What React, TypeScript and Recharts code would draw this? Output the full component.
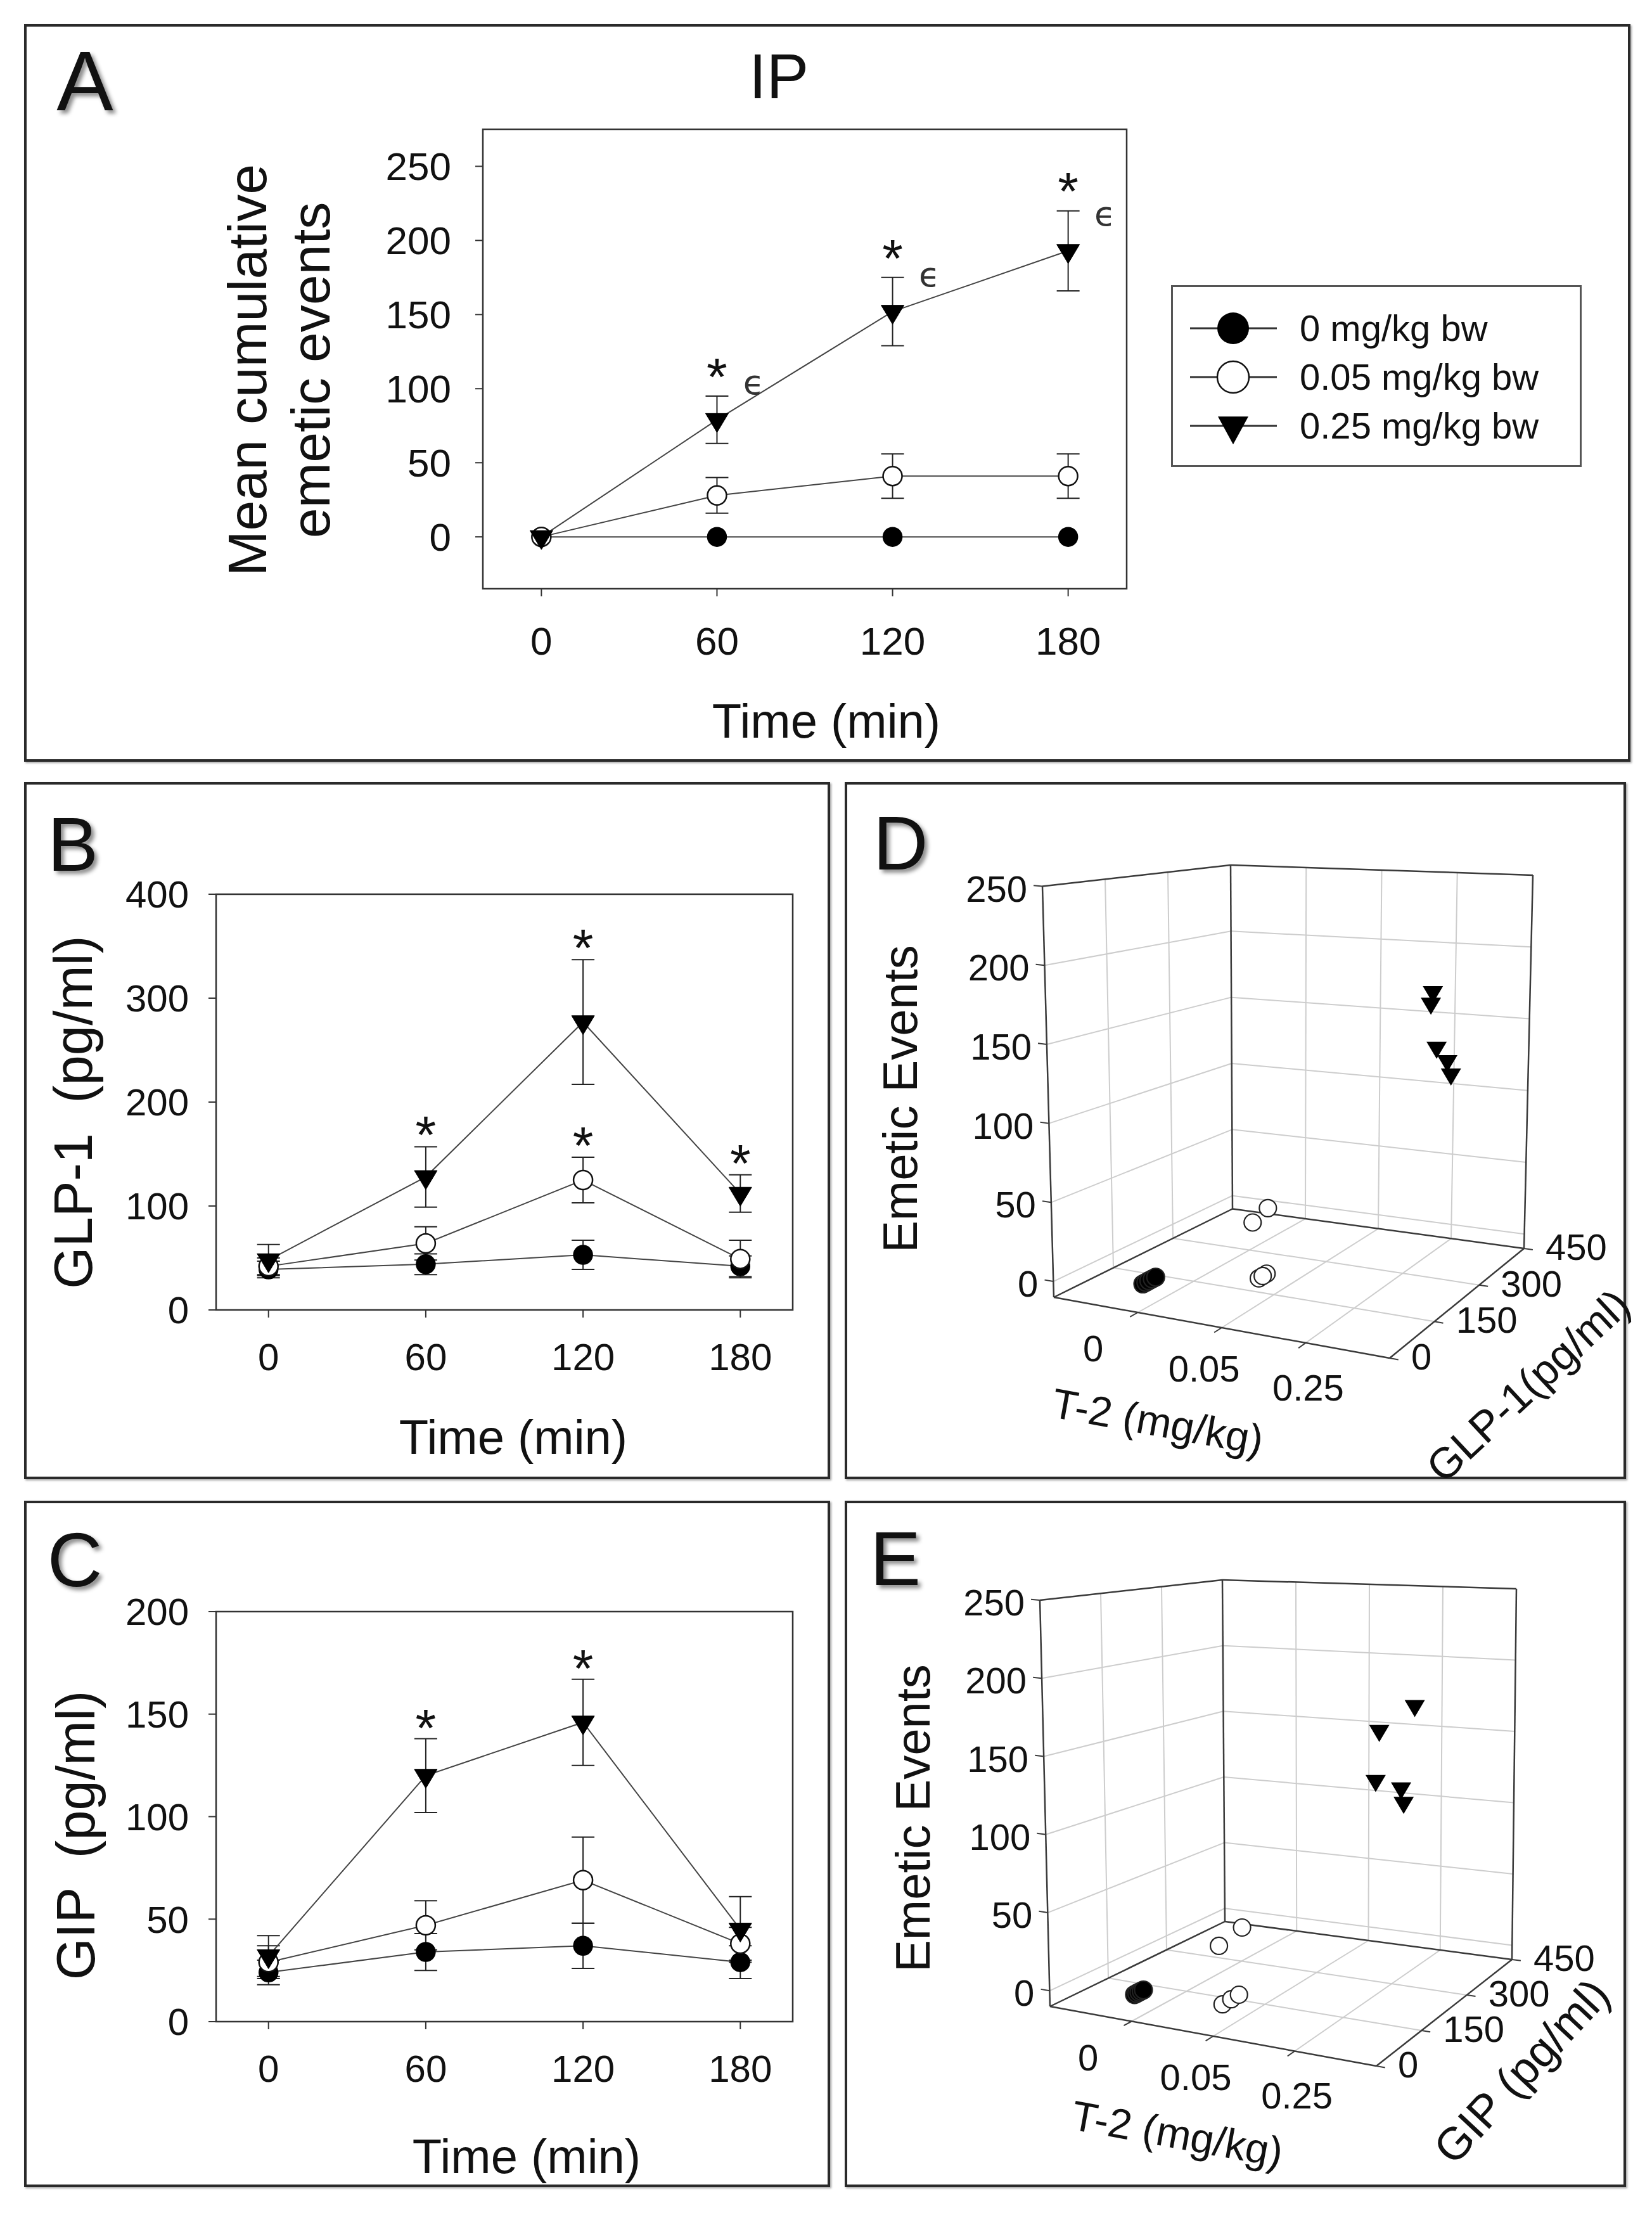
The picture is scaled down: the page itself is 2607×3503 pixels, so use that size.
import React from "react";
import {
  LineChart,
  Line,
  XAxis,
  YAxis,
  ErrorBar,
  ReferenceArea,
  ReferenceDot,
  ScatterChart,
  Scatter,
  ReferenceLine,
} from "recharts";

const FONT = '"Liberation Sans", Arial, Helvetica, sans-serif';
const INK = "#111";

// time course (min)
const times = [0, 60, 120, 180];
const groupNames = ["0 mg/kg bw", "0.05 mg/kg bw", "0.25 mg/kg bw"];

// A: mean cumulative emetic events +/- SEM
const emesis0 = [0, 0, 0, 0];
const emesis0Sem = [0, 0, 0, 0];
const emesis005 = [0, 28, 41, 41];
const emesis005Sem = [0, 12, 15, 15];
const emesis025 = [0, 79, 152, 193];
const emesis025Sem = [0, 16, 23, 27];

// B: GLP-1 (pg/ml)
const glp0 = [39, 44, 53, 42];
const glp0Sem = [8, 10, 14, 10];
const glp005 = [42, 64, 125, 49];
const glp005Sem = [8, 16, 22, 18];
const glp025 = [48, 128, 277, 112];
const glp025Sem = [15, 29, 60, 18];

// C: GIP (pg/ml)
const gip0 = [24, 34, 37, 29];
const gip0Sem = [6, 9, 11, 8];
const gip005 = [29, 47, 69, 38];
const gip005Sem = [8, 12, 21, 8];
const gip025 = [32, 120, 146, 45];
const gip025Sem = [10, 18, 21, 16];

// significance marks (time points)
const starsA025 = [60, 120, 180];
const epsA025 = [60, 120, 180];
const starsB025 = [60, 120, 180];
const starsB005 = [120];
const starsC025 = [60, 120];

// D / E: individual animals
const doseLabels = ["0", "0.05", "0.25"];
const emeticInd0 = [0, 0, 0, 0, 0];
const emeticInd005 = [38, 42, 0, 0, 0];
const emeticInd025 = [188, 181, 151, 139, 129];
const glpInd0 = [50, 58, 66, 75, 84];
const glpInd005 = [128, 171, 144, 166, 155];
const glpInd025 = [221, 215, 234, 268, 280];
const gipInd0 = [44, 50, 56, 62, 68];
const gipInd005 = [57, 123, 65, 90, 112];
const gipInd025 = [209, 98, 86, 166, 174];

const emeticTicks = [0, 50, 100, 150, 200, 250];
const hormoneTicks = [0, 150, 300, 450];

const makeRows = (m: number[][], s: number[][]) =>
  times.map((t, i) => ({
    t,
    g0: m[0][i],
    s0: s[0][i],
    g1: m[1][i],
    s1: s[1][i],
    g2: m[2][i],
    s2: s[2][i],
  }));

const rowsA = makeRows([emesis0, emesis005, emesis025], [emesis0Sem, emesis005Sem, emesis025Sem]);
const rowsB = makeRows([glp0, glp005, glp025], [glp0Sem, glp005Sem, glp025Sem]);
const rowsC = makeRows([gip0, gip005, gip025], [gip0Sem, gip005Sem, gip025Sem]);

// ---------- markers ----------
const triPath = (cx: number, cy: number, w: number, h: number) =>
  `M${cx - w / 2},${cy - h / 3} L${cx + w / 2},${cy - h / 3} L${cx},${cy + (2 * h) / 3} Z`;

const filledDot = (r: number) => (p: any) =>
  <circle key={`f${p.index}`} cx={p.cx} cy={p.cy} r={r} fill="#000" stroke="#000" strokeWidth={1.5} />;
const openDot = (r: number) => (p: any) =>
  <circle key={`o${p.index}`} cx={p.cx} cy={p.cy} r={r} fill="#fff" stroke="#111" strokeWidth={2.5} />;
const triDot = (w: number, h: number) => (p: any) =>
  <path key={`t${p.index}`} d={triPath(p.cx, p.cy, w, h)} fill="#000" stroke="#000" strokeWidth={1} />;

const shapeCircle = (r: number, fill: string) => (p: any) =>
  <circle cx={p.cx} cy={p.cy} r={r} fill={fill} stroke="#222" strokeWidth={2.2} />;
const shapeTri = (w: number, h: number) => (p: any) =>
  <path d={triPath(p.cx, p.cy, w, h)} fill="#000" />;

// ---------- html text helper ----------
type TxtProps = {
  x: number;
  y: number;
  size: number;
  anchor?: "start" | "middle" | "end";
  rotate?: number;
  shadow?: boolean;
  children: React.ReactNode;
  color?: string;
};
const Txt = ({ x, y, size, anchor = "middle", rotate = 0, shadow, children, color }: TxtProps) => {
  const tx = anchor === "end" ? "-100%" : anchor === "start" ? "0%" : "-50%";
  return (
    <div
      style={{
        position: "absolute",
        left: x,
        top: y,
        fontSize: size,
        lineHeight: 1,
        whiteSpace: "pre",
        color: color || INK,
        fontFamily: FONT,
        transform: `translate(${tx}, -50%) rotate(${rotate}deg)`,
        textShadow: shadow ? "5px 5px 6px rgba(0,0,0,0.45)" : undefined,
        pointerEvents: "none",
      }}
    >
      {children}
    </div>
  );
};

const Frame = ({ w, h }: { w: number; h: number }) => (
  <div
    style={{
      position: "absolute",
      left: 0,
      top: 0,
      width: w,
      height: h,
      boxSizing: "border-box",
      border: "4px solid #2a2a2a",
      boxShadow: "2px 2px 3px rgba(0,0,0,0.35)",
    }}
  />
);

// ---------- time course panels ----------
type StarSpec = { key: "g1" | "g2"; sem: "s1" | "s2"; at: number[] };

type TCProps = {
  width: number;
  height: number;
  margin: { top: number; right: number; bottom: number; left: number };
  yAxisWidth: number;
  rows: any[];
  yDomain: [number, number];
  yTicks: number[];
  tickFont: number;
  yTickMargin: number;
  xTickMargin: number;
  stars: StarSpec[];
  starGap: number;
  eps?: number[];
};

const starLabel = (gap: number, fs: number) => (p: any) => {
  const vb = p.viewBox || {};
  const cx = (vb.x || 0) + (vb.width || 0) / 2;
  const cy = (vb.y || 0) + (vb.height || 0) / 2;
  return (
    <text x={cx} y={cy - gap + fs * 0.58} textAnchor="middle" fontSize={fs} fontFamily={FONT} fill={INK}>
      *
    </text>
  );
};

const epsLabel = (p: any) => {
  const vb = p.viewBox || {};
  const cx = (vb.x || 0) + (vb.width || 0) / 2;
  const cy = (vb.y || 0) + (vb.height || 0) / 2;
  return (
    <text x={cx + 58} y={cy - 40} textAnchor="middle" fontSize={54} fontFamily="DejaVu Sans, sans-serif" fill="#333">
      ϵ
    </text>
  );
};

const TimeCourse = (p: TCProps) => {
  const tickStyle = { fontSize: p.tickFont, fill: INK, fontFamily: FONT };
  const tickLine = { stroke: "#333", strokeWidth: 2 };
  const lineStroke = "#444";
  const eb = (k: string) => (
    <ErrorBar dataKey={k} width={18} stroke="#222" strokeWidth={2} direction="y" />
  );
  return (
    <LineChart
      width={p.width}
      height={p.height}
      data={p.rows}
      margin={p.margin}
      style={{ position: "absolute", left: 0, top: 0 }}
    >
      <XAxis
        type="number"
        dataKey="t"
        domain={[-20, 200]}
        ticks={times}
        interval={0}
        allowDataOverflow
        height={100}
        tickSize={12}
        tickMargin={p.xTickMargin}
        axisLine={false}
        tickLine={tickLine}
        tick={tickStyle}
      />
      <YAxis
        type="number"
        domain={p.yDomain}
        ticks={p.yTicks}
        interval={0}
        allowDataOverflow
        width={p.yAxisWidth}
        tickSize={12}
        tickMargin={p.yTickMargin}
        axisLine={false}
        tickLine={tickLine}
        tick={tickStyle}
      />
      <ReferenceArea
        x1={-20}
        x2={200}
        y1={p.yDomain[0]}
        y2={p.yDomain[1]}
        fill="none"
        fillOpacity={0}
        stroke="#333"
        strokeWidth={2.5}
        ifOverflow="visible"
      />
      <Line
        dataKey="g0"
        type="linear"
        stroke={lineStroke}
        strokeWidth={2}
        dot={filledDot(15)}
        activeDot={false}
        isAnimationActive={false}
      >
        {eb("s0")}
      </Line>
      <Line
        dataKey="g1"
        type="linear"
        stroke={lineStroke}
        strokeWidth={2}
        dot={openDot(15)}
        activeDot={false}
        isAnimationActive={false}
      >
        {eb("s1")}
      </Line>
      <Line
        dataKey="g2"
        type="linear"
        stroke={lineStroke}
        strokeWidth={2}
        dot={triDot(36, 30)}
        activeDot={false}
        isAnimationActive={false}
      >
        {eb("s2")}
      </Line>
      {p.stars.flatMap((s) =>
        s.at.map((t) => {
          const row = p.rows[times.indexOf(t)];
          return (
            <ReferenceDot
              key={`st-${s.key}-${t}`}
              x={t}
              y={row[s.key] + row[s.sem]}
              r={0}
              fill="none"
              stroke="none"
              ifOverflow="visible"
              label={starLabel(p.starGap, 84)}
            />
          );
        })
      )}
      {(p.eps || []).map((t) => {
        const row = p.rows[times.indexOf(t)];
        return (
          <ReferenceDot
            key={`eps-${t}`}
            x={t}
            y={row.g2}
            r={0}
            fill="none"
            stroke="none"
            ifOverflow="visible"
            label={epsLabel}
          />
        );
      })}
    </LineChart>
  );
};

// ---------- legend of A ----------
const LegendA = ({ left, top }: { left: number; top: number }) => {
  const rowY = [68, 145, 222];
  return (
    <div
      style={{
        position: "absolute",
        left,
        top,
        width: 648,
        height: 287,
        boxSizing: "border-box",
        border: "3px solid #555",
        background: "#fff",
      }}
    >
      <svg width={200} height={287} style={{ position: "absolute", left: -3, top: -3 }}>
        {rowY.map((y, i) => (
          <g key={i}>
            <line x1={30} x2={167} y1={y} y2={y} stroke="#333" strokeWidth={3} />
            {i === 0 && <circle cx={98} cy={y} r={25} fill="#000" />}
            {i === 1 && <circle cx={98} cy={y} r={25} fill="#fff" stroke="#111" strokeWidth={2.5} />}
            {i === 2 && <path d={triPath(98, y, 48, 44)} fill="#000" />}
          </g>
        ))}
      </svg>
      {groupNames.map((n, i) => (
        <Txt key={n} x={200} y={rowY[i] - 3} size={58} anchor="start">
          {n}
        </Txt>
      ))}
    </div>
  );
};

// ---------- 3D scatter panels ----------
type P2 = { x: number; y: number };
type Box3 = { Lb: P2; Fb: P2; Rb: P2; Bb: P2; Lt: P2; Ft: P2; Rt: P2; Bt: P2 };

const EM_MIN = -10;
const EM_MAX = 250;
const HORMONE_MAX = 450;
const doseU = [0.21, 0.46, 0.92];
const doseLabelU = [0.14, 0.47, 0.78];
const doseGridU = [0.25, 0.5, 0.75];

const bil = (a: P2, b: P2, c: P2, d: P2, u: number, v: number): P2 => ({
  x: (1 - u) * (1 - v) * a.x + u * (1 - v) * b.x + u * v * c.x + (1 - u) * v * d.x,
  y: (1 - u) * (1 - v) * a.y + u * (1 - v) * b.y + u * v * c.y + (1 - u) * v * d.y,
});
const project = (b: Box3, u: number, v: number, w: number): P2 => {
  const f = bil(b.Lb, b.Fb, b.Rb, b.Bb, u, v);
  const t = bil(b.Lt, b.Ft, b.Rt, b.Bt, u, v);
  return { x: f.x + (t.x - f.x) * w, y: f.y + (t.y - f.y) * w };
};
const wn = (e: number) => (e - EM_MIN) / (EM_MAX - EM_MIN);
const vn = (h: number) => h / HORMONE_MAX;

type Seg = { a: P2; b: P2; kind: "grid" | "edge" | "tick" };

const buildSegments = (b: Box3): Seg[] => {
  const s: Seg[] = [];
  const P = (u: number, v: number, w: number) => project(b, u, v, w);
  const wGrid = emeticTicks.filter((e) => e < EM_MAX).map(wn);
  const vGrid = hormoneTicks.filter((h) => h > 0 && h < HORMONE_MAX).map(vn);
  // left wall
  vGrid.forEach((v) => s.push({ a: P(0, v, 0), b: P(0, v, 1), kind: "grid" }));
  wGrid.forEach((w) => s.push({ a: P(0, 0, w), b: P(0, 1, w), kind: "grid" }));
  // right wall
  doseGridU.forEach((u) => s.push({ a: P(u, 1, 0), b: P(u, 1, 1), kind: "grid" }));
  wGrid.forEach((w) => s.push({ a: P(0, 1, w), b: P(1, 1, w), kind: "grid" }));
  // floor
  doseGridU.forEach((u) => s.push({ a: P(u, 0, 0), b: P(u, 1, 0), kind: "grid" }));
  vGrid.forEach((v) => s.push({ a: P(0, v, 0), b: P(1, v, 0), kind: "grid" }));
  // edges
  const E = (a: P2, c: P2) => s.push({ a, b: c, kind: "edge" });
  E(P(0, 0, 0), P(0, 0, 1));
  E(P(0, 0, 1), P(0, 1, 1));
  E(P(0, 1, 0), P(0, 1, 1));
  E(P(0, 1, 1), P(1, 1, 1));
  E(P(1, 1, 0), P(1, 1, 1));
  E(P(0, 0, 0), P(1, 0, 0));
  E(P(1, 0, 0), P(1, 1, 0));
  E(P(0, 0, 0), P(0, 1, 0));
  E(P(0, 1, 0), P(1, 1, 0));
  // ticks
  const unit = (a: P2, c: P2) => {
    const dx = c.x - a.x;
    const dy = c.y - a.y;
    const l = Math.hypot(dx, dy) || 1;
    return { x: dx / l, y: dy / l };
  };
  const T = 14;
  emeticTicks.map(wn).forEach((w) => {
    const p0 = P(0, 0, w);
    const d = unit(P(1, 0, w), p0);
    s.push({ a: p0, b: { x: p0.x + d.x * T, y: p0.y + d.y * T }, kind: "tick" });
  });
  hormoneTicks.map(vn).forEach((v) => {
    const p0 = P(1, v, 0);
    const d = unit(P(0, v, 0), p0);
    s.push({ a: p0, b: { x: p0.x + d.x * T, y: p0.y + d.y * T }, kind: "tick" });
  });
  doseGridU.forEach((u) => {
    const p0 = P(u, 0, 0);
    const d = unit(P(u, 1, 0), p0);
    s.push({ a: p0, b: { x: p0.x + d.x * T, y: p0.y + d.y * T }, kind: "tick" });
  });
  return s;
};

type P3Props = {
  width: number;
  height: number;
  box: Box3;
  hormone: number[][];
  letter: string;
  letterPos: P2;
  emeticTitlePos: P2;
  doseTitlePos: P2;
  hormoneTitle: string;
  hormoneTitlePos: P2;
  hormoneTitleRot: number;
  hormoneTitleSize: number;
};

const Panel3D = (p: P3Props) => {
  const emetic = [emeticInd0, emeticInd005, emeticInd025];
  const pts = [0, 1, 2].map((g) =>
    p.hormone[g].map((h, i) => project(p.box, doseU[g], vn(h), wn(emetic[g][i])))
  );
  const segs = buildSegments(p.box);
  const style = {
    grid: { stroke: "#cdcdcd", w: 2 },
    edge: { stroke: "#3a3a3a", w: 2.5 },
    tick: { stroke: "#3a3a3a", w: 2 },
  };
  return (
    <>
      <ScatterChart
        width={p.width}
        height={p.height}
        margin={{ top: 0, right: 0, bottom: 0, left: 0 }}
        style={{ position: "absolute", left: 0, top: 0 }}
      >
        <XAxis type="number" dataKey="x" domain={[0, p.width]} hide allowDataOverflow />
        <YAxis type="number" dataKey="y" domain={[0, p.height]} reversed hide allowDataOverflow />
        {segs.map((s, i) => (
          <ReferenceLine
            key={i}
            segment={[s.a, s.b]}
            stroke={style[s.kind].stroke}
            strokeWidth={style[s.kind].w}
            ifOverflow="visible"
          />
        ))}
        <Scatter data={pts[0]} shape={shapeCircle(14, "#000")} isAnimationActive={false} />
        <Scatter data={pts[1]} shape={shapeCircle(13.5, "#fff")} isAnimationActive={false} />
        <Scatter data={pts[2]} shape={shapeTri(32, 27)} isAnimationActive={false} />
      </ScatterChart>
      {emeticTicks.map((e) => {
        const q = project(p.box, 0, 0, wn(e));
        return (
          <Txt key={`em${e}`} x={q.x - 24} y={q.y + 4} size={58} anchor="end">
            {String(e)}
          </Txt>
        );
      })}
      {hormoneTicks.map((h) => {
        const q = project(p.box, 1, vn(h), 0);
        return (
          <Txt key={`h${h}`} x={q.x + 34} y={q.y - 2} size={58} anchor="start">
            {String(h)}
          </Txt>
        );
      })}
      {doseLabels.map((d, i) => {
        const q = project(p.box, doseLabelU[i], 0, 0);
        return (
          <Txt key={`d${d}`} x={q.x - 12} y={q.y + 68} size={58}>
            {d}
          </Txt>
        );
      })}
      <Txt x={p.emeticTitlePos.x} y={p.emeticTitlePos.y} size={76} rotate={-90}>
        Emetic Events
      </Txt>
      <Txt x={p.doseTitlePos.x} y={p.doseTitlePos.y} size={66} rotate={10.3}>
        T-2 (mg/kg)
      </Txt>
      <Txt
        x={p.hormoneTitlePos.x}
        y={p.hormoneTitlePos.y}
        size={p.hormoneTitleSize}
        rotate={p.hormoneTitleRot}
      >
        {p.hormoneTitle}
      </Txt>
      <Txt x={p.letterPos.x} y={p.letterPos.y} size={120} shadow>
        {p.letter}
      </Txt>
    </>
  );
};

const boxD: Box3 = {
  Lb: { x: 330, y: 813 },
  Fb: { x: 860, y: 909 },
  Rb: { x: 1072, y: 736 },
  Bb: { x: 612, y: 673.5 },
  Lt: { x: 312, y: 164.5 },
  Ft: { x: 859, y: 214 },
  Rt: { x: 1086, y: 147 },
  Bt: { x: 609, y: 131 },
};

const boxE: Box3 = {
  Lb: { x: 324, y: 798 },
  Fb: { x: 839, y: 892 },
  Rb: { x: 1053, y: 724 },
  Bb: { x: 600, y: 664 },
  Lt: { x: 308, y: 157 },
  Ft: { x: 835, y: 205 },
  Rt: { x: 1060, y: 139 },
  Bt: { x: 596, y: 125 },
};

const Panel = ({
  left,
  top,
  w,
  h,
  children,
}: {
  left: number;
  top: number;
  w: number;
  h: number;
  children: React.ReactNode;
}) => (
  <div style={{ position: "absolute", left, top, width: w, height: h }}>
    <Frame w={w} h={h} />
    {children}
  </div>
);

export default function App() {
  return (
    <div
      style={{
        position: "absolute",
        left: 0,
        top: 0,
        width: 2607,
        height: 3503,
        background: "#fff",
        fontFamily: FONT,
        overflow: "hidden",
      }}
    >
      {/* A */}
      <Panel left={38} top={38} w={2535} h={1164}>
        <TimeCourse
          width={2535}
          height={1164}
          margin={{ top: 166, right: 795, bottom: 173, left: 574 }}
          yAxisWidth={150}
          rows={rowsA}
          yDomain={[-35, 275]}
          yTicks={emeticTicks}
          tickFont={62}
          yTickMargin={38}
          xTickMargin={48}
          stars={[{ key: "g2", sem: "s2", at: starsA025 }]}
          starGap={50}
          eps={epsA025}
        />
        <Txt x={96} y={90} size={134} shadow>
          A
        </Txt>
        <Txt x={1191} y={82} size={100}>
          IP
        </Txt>
        <div
          style={{
            position: "absolute",
            left: 402,
            top: 546,
            width: 900,
            fontSize: 86,
            lineHeight: "100px",
            textAlign: "center",
            color: INK,
            transform: "translate(-50%, -50%) rotate(-90deg)",
            whiteSpace: "nowrap",
          }}
        >
          Mean cumulative
          <br />
          emetic events
        </div>
        <Txt x={1266} y={1100} size={76}>
          Time (min)
        </Txt>
        <LegendA left={1810} top={412} />
      </Panel>

      {/* B */}
      <Panel left={38} top={1234} w={1272} h={1100}>
        <TimeCourse
          width={1272}
          height={1100}
          margin={{ top: 177, right: 59, bottom: 167, left: 203 }}
          yAxisWidth={100}
          rows={rowsB}
          yDomain={[0, 400]}
          yTicks={[0, 100, 200, 300, 400]}
          tickFont={60}
          yTickMargin={31}
          xTickMargin={40}
          stars={[
            { key: "g2", sem: "s2", at: starsB025 },
            { key: "g1", sem: "s1", at: starsB005 },
          ]}
          starGap={38}
        />
        <Txt x={77} y={98} size={120} shadow>
          B
        </Txt>
        <Txt x={77} y={521} size={85} rotate={-90}>
          {"GLP-1  (pg/ml)"}
        </Txt>
        <Txt x={772} y={1034} size={76}>
          Time (min)
        </Txt>
      </Panel>

      {/* C */}
      <Panel left={38} top={2368} w={1272} h={1083}>
        <TimeCourse
          width={1272}
          height={1083}
          margin={{ top: 175, right: 59, bottom: 161, left: 203 }}
          yAxisWidth={100}
          rows={rowsC}
          yDomain={[0, 200]}
          yTicks={[0, 50, 100, 150, 200]}
          tickFont={60}
          yTickMargin={31}
          xTickMargin={40}
          stars={[{ key: "g2", sem: "s2", at: starsC025 }]}
          starGap={36}
        />
        <Txt x={80} y={93} size={120} shadow>
          C
        </Txt>
        <Txt x={81} y={528} size={85} rotate={-90}>
          {"GIP  (pg/ml)"}
        </Txt>
        <Txt x={793} y={1035} size={76}>
          Time (min)
        </Txt>
      </Panel>

      {/* D */}
      <Panel left={1333} top={1234} w={1233} h={1100}>
        <Panel3D
          width={1233}
          height={1100}
          box={boxD}
          hormone={[glpInd0, glpInd005, glpInd025]}
          letter="D"
          letterPos={{ x: 88, y: 96 }}
          emeticTitlePos={{ x: 88, y: 500 }}
          doseTitlePos={{ x: 494, y: 1009 }}
          hormoneTitle="GLP-1(pg/ml)"
          hormoneTitlePos={{ x: 1078, y: 952 }}
          hormoneTitleRot={-43}
          hormoneTitleSize={68}
        />
      </Panel>

      {/* E */}
      <Panel left={1333} top={2368} w={1233} h={1083}>
        <Panel3D
          width={1233}
          height={1083}
          box={boxE}
          hormone={[gipInd0, gipInd005, gipInd025]}
          letter="E"
          letterPos={{ x: 80, y: 91 }}
          emeticTitlePos={{ x: 108, y: 501 }}
          doseTitlePos={{ x: 525, y: 999 }}
          hormoneTitle="GIP (pg/ml)"
          hormoneTitlePos={{ x: 1068, y: 900 }}
          hormoneTitleRot={-47}
          hormoneTitleSize={72}
        />
      </Panel>
    </div>
  );
}
